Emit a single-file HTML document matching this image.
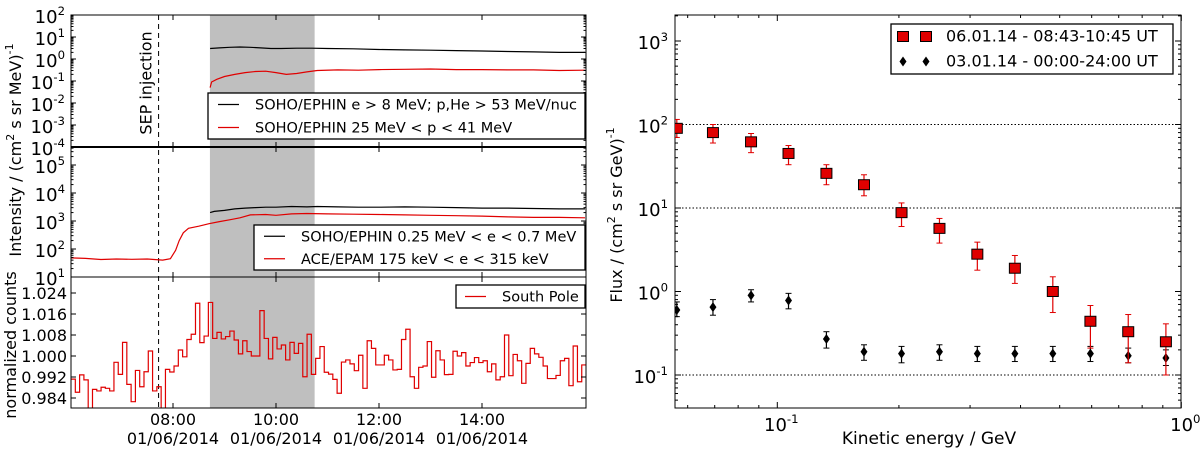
<!DOCTYPE html>
<html><head><meta charset="utf-8"><style>
html,body{margin:0;padding:0;background:#fff;}
svg{display:block;font-family:"DejaVu Sans","Liberation Sans",sans-serif;}
</style></head><body>
<svg id="c" width="1200" height="450" viewBox="0 0 1200 450" xmlns="http://www.w3.org/2000/svg"></svg>
<script>
// ---- left panel data (time in hours, 01/06/2014) ----
const topBlackT = [8.72,8.9,9.1,9.3,9.5,9.7,9.9,10.1,10.4,10.7,11.0,11.5,12.0,12.5,13.0,13.5,14.0,14.5,15.0,15.5,16.0];
const topBlackV = [3.0,3.2,3.4,3.5,3.4,3.2,3.0,3.0,3.1,3.1,3.0,2.9,2.7,2.6,2.5,2.4,2.3,2.2,2.1,2.0,2.0];
const topRedT = [8.72,8.75,8.85,9.0,9.2,9.4,9.6,9.8,10.0,10.2,10.4,10.6,10.8,11.2,11.6,12.0,12.5,13.0,13.5,14.0,14.5,15.0,15.5,16.0];
const topRedV = [0.05,0.09,0.12,0.16,0.2,0.24,0.27,0.28,0.24,0.2,0.22,0.26,0.3,0.32,0.31,0.33,0.34,0.35,0.33,0.33,0.32,0.32,0.3,0.31];
const midBlackT = [8.72,8.8,9.0,9.2,9.4,9.6,9.8,10.0,10.3,10.6,10.8,11.2,11.6,12.0,12.5,13.0,13.5,14.0,14.5,15.0,15.5,16.0];
const midBlackV = [2000,2200,2400,2700,2900,3000,3100,3100,3300,3200,3300,3200,3100,3100,3200,3100,3000,2900,2900,2800,2700,2700];
const midRedT = [6.02,6.3,6.6,6.9,7.2,7.5,7.8,7.95,8.05,8.12,8.2,8.3,8.5,8.7,8.9,9.1,9.3,9.5,9.8,10.0,10.3,10.6,11.0,11.5,12.0,12.5,13.0,13.5,14.0,14.5,15.0,15.5,16.0];
const midRedV = [48,46,42,44,43,44,40,45,90,200,380,550,650,800,950,1100,1300,1650,1700,1600,1800,1850,1800,1750,1700,1650,1600,1550,1500,1400,1350,1350,1300];
const southPoleStart = 6.02;
const southPoleBinHours = 1/12;
const southPoleV = [0.9912,0.9862,0.9928,0.9909,0.979,0.9873,0.9867,0.9881,0.9877,0.9867,0.9976,0.9930,1.0052,0.9892,0.9826,0.9945,0.9883,0.9940,1.0019,0.9867,0.9883,0.979,0.9949,0.9939,0.9962,1.0023,0.9997,1.0063,1.0083,1.0201,1.0051,1.0076,1.0204,1.0067,1.0090,1.0065,1.0074,1.0095,1.0061,1.0008,1.0058,1.0017,1.0000,1.0000,1.0173,1.0067,0.9989,1.0071,1.0027,1.0042,
0.9985,1.0052,1.0010,1.0048,0.9921,1.0083,0.9930,0.9991,1.0036,0.9938,0.9931,0.9911,0.9858,0.9977,0.9985,0.9970,0.9944,1.0003,0.9877,1.0058,1.0029,0.9966,0.9966,1.0003,0.9985,0.9947,0.9949,1.0063,1.0102,0.9921,0.9877,0.9957,0.9962,1.0055,0.9919,1.0020,0.9985,0.9929,0.9930,1.0018,1.0000,1.0013,0.9962,0.9975,0.9994,0.9975,0.9982,0.9940,0.9970,0.9909,0.9921,1.0080,0.9925,
1.0006,0.9982,0.9896,0.9972,1.0029,1.0008,0.9995,0.9962,0.9914,0.9914,0.9926,0.9982,0.9991,0.9887,1.0038,0.9902,0.9966];
const sepInjection = 7.72;
const bandStart = 8.717, bandEnd = 10.75;
const timeTicks = [8,10,12,14];
const timeTickLabels = ["08:00","10:00","12:00","14:00"];
const bottomTicks = [0.984,0.992,1.000,1.008,1.016,1.024];
// ---- right panel data ----
const energy = [0.0564,0.0693,0.0861,0.1066,0.1323,0.1639,0.2030,0.2520,0.3127,0.3873,0.4808,0.5957,0.7390,0.9160];
const redFlux = [90,80,62,45,26,19,8.8,5.7,2.8,1.9,1.0,0.44,0.33,0.25];
const redUp = [115,100,78,56,33,25,11.5,7.5,3.9,2.7,1.5,0.68,0.53,0.41];
const redLo = [70,60,46,33,19,14,6.0,3.8,1.8,1.25,0.56,0.21,0.14,0.1];
const blackFlux = [0.6,0.65,0.9,0.78,0.27,0.19,0.18,0.19,0.18,0.18,0.18,0.18,0.17,0.16];
const blackUp = [0.75,0.8,1.05,0.95,0.33,0.23,0.22,0.23,0.22,0.22,0.22,0.22,0.21,0.2];
const blackLo = [0.5,0.52,0.75,0.62,0.21,0.15,0.14,0.15,0.145,0.145,0.145,0.145,0.14,0.13];

const NS = "http://www.w3.org/2000/svg";
const svg = document.getElementById('c');
function el(tag, attrs, parent, text){
  const e = document.createElementNS(NS, tag);
  for (const k in attrs) e.setAttribute(k, attrs[k]);
  if (text !== undefined) e.textContent = text;
  (parent || svg).appendChild(e);
  return e;
}
function pow10Label(parent, x, y, exp, anchor, size){
  const t = el('text', {x:x, y:y, 'text-anchor':anchor, 'font-size':size}, parent);
  const a = document.createElementNS(NS,'tspan'); a.textContent = '10'; t.appendChild(a);
  const b = document.createElementNS(NS,'tspan'); b.setAttribute('dy', -size*0.45); b.setAttribute('font-size', size*0.65); b.textContent = exp; t.appendChild(b);
  return t;
}
// scales
const X0=71, X1=586;
const tx = h => 173 + (h-8)*51.5;
const yTop = v => 147 - (Math.log10(v)+4)*22;
const yMid = v => 277 - (Math.log10(v)-1)*28;
const yBot = v => 356 - (v-1)*2625;
const RX0=675, RX1=1181, RY0=15, RY1=408;
const ex = E => 777.3 + (Math.log10(E)+1)*404;
const fy = F => 375 - (Math.log10(F)+1)*83.5;

const defs = el('defs',{});
const cp = el('clipPath',{id:'cb'},defs); el('rect',{x:X0,y:277,width:X1-X0,height:131},cp);
const cpr = el('clipPath',{id:'cr'},defs); el('rect',{x:RX0,y:RY0,width:RX1-RX0,height:RY1-RY0},cpr);

// ---------- LEFT ----------
const L = el('g',{});  
const band = el('rect',{x:tx(bandStart),y:15,width:tx(bandEnd)-tx(bandStart),height:393,fill:'#bfbfbf'},L);
 
const sep = el('line',{x1:tx(sepInjection),x2:tx(sepInjection),y1:15,y2:408,stroke:'#000','stroke-width':1,'stroke-dasharray':'5,4'},L);
 
const sepT = el('text',{x:0,y:0,'font-size':16,'text-anchor':'middle',transform:`translate(${tx(sepInjection)-7},83) rotate(-90)`},L,'SEP injection');
 

function line(ts, vs, sc, color, name){
  const p = ts.map((t,i)=>`${tx(t).toFixed(1)},${sc(vs[i]).toFixed(1)}`).join(' ');
  const pl = el('polyline',{points:p,fill:'none',stroke:color,'stroke-width':1.2},L);
   
}
line(topBlackT, topBlackV, yTop, '#000', 'series-ephin-e8mev');
line(topRedT, topRedV, yTop, '#e00000', 'series-ephin-25-41mev');
line(midBlackT, midBlackV, yMid, '#000', 'series-ephin-electrons');
line(midRedT, midRedV, yMid, '#e00000', 'series-epam-electrons');

{
  const w = southPoleBinHours;
  let d = '';
  southPoleV.forEach((v,i)=>{
    const xa = tx(southPoleStart+i*w), xb = tx(southPoleStart+(i+1)*w), y = yBot(v);
    d += (i===0?`M${xa},${y}`:`L${xa},${y}`) + `L${xb},${y}`;
  });
  const p = el('path',{d:d,fill:'none',stroke:'#e00000','stroke-width':1.2,'clip-path':'url(#cb)'},L);
   
}
[[15,147],[147,277],[277,408]].forEach((r,i)=>{
  const f = el('rect',{x:X0,y:r[0],width:X1-X0,height:r[1]-r[0],fill:'none',stroke:'#000','stroke-width':1},L);
   
});
el('line',{x1:X0,x2:X1,y1:147,y2:147,stroke:'#000','stroke-width':2},L);
timeTicks.forEach((h,i)=>{
  [[15,147],[147,277],[277,408]].forEach(r=>{
    el('line',{x1:tx(h),x2:tx(h),y1:r[0],y2:r[0]+5,stroke:'#000'},L);
    el('line',{x1:tx(h),x2:tx(h),y1:r[1],y2:r[1]-5,stroke:'#000'},L);
  });
  const t1 = el('text',{x:tx(h),y:425,'font-size':16,'text-anchor':'middle'},L,timeTickLabels[i]);
   
  const t2 = el('text',{x:tx(h),y:444,'font-size':16,'text-anchor':'middle'},L,'01/06/2014');
   
});
for (let e=-4;e<=2;e++){
  const y=yTop(Math.pow(10,e));
  el('line',{x1:X0,x2:X0+5,y1:y,y2:y,stroke:'#000'},L); el('line',{x1:X1,x2:X1-5,y1:y,y2:y,stroke:'#000'},L);
  for(let m=2;m<10;m++){const ym=yTop(m*Math.pow(10,e)); if(e<2){el('line',{x1:X0,x2:X0+2.5,y1:ym,y2:ym,stroke:'#000'},L);el('line',{x1:X1,x2:X1-2.5,y1:ym,y2:ym,stroke:'#000'},L);}}
  const lb = pow10Label(L, 65, y+8, String(e), 'end', 18);
   
}
for (let e=1;e<=5;e++){
  const y=yMid(Math.pow(10,e));
  el('line',{x1:X0,x2:X0+5,y1:y,y2:y,stroke:'#000'},L); el('line',{x1:X1,x2:X1-5,y1:y,y2:y,stroke:'#000'},L);
  for(let m=2;m<10;m++){const ym=yMid(m*Math.pow(10,e)); if(ym>147){el('line',{x1:X0,x2:X0+2.5,y1:ym,y2:ym,stroke:'#000'},L);el('line',{x1:X1,x2:X1-2.5,y1:ym,y2:ym,stroke:'#000'},L);}}
  if(e>=2){const lb = pow10Label(L, 65, y+8, String(e), 'end', 18);
   }
}
{ const lb = pow10Label(L, 65, 285, '1', 'end', 18);   }
bottomTicks.forEach(v=>{
  const y=yBot(v);
  el('line',{x1:X0,x2:X0+5,y1:y,y2:y,stroke:'#000'},L); el('line',{x1:X1,x2:X1-5,y1:y,y2:y,stroke:'#000'},L);
  const lb = el('text',{x:67,y:y+6,'font-size':16,'text-anchor':'end'},L,v.toFixed(3));
   
});
{
  const t = el('text',{x:0,y:0,'font-size':16,'text-anchor':'middle',transform:'translate(21,150) rotate(-90)'},L);
   
  t.innerHTML = 'Intensity / (cm<tspan dy="-7" font-size="11">2</tspan><tspan dy="7">  s sr MeV)</tspan><tspan dy="-8" font-size="11">-1</tspan>';
  const t2 = el('text',{x:0,y:0,'font-size':16,'text-anchor':'middle',transform:'translate(16,345) rotate(-90)'},L,'normalized counts');
   
}
function legend(parent,x,y,w,h,items,name,fs,lx,lw,tx0){
  const g = el('g',{},parent);  
  el('rect',{x:x,y:y,width:w,height:h,fill:'#fff',stroke:'#000','stroke-width':1.3},g);
  items.forEach((it,i)=>{
    const yy = y + h/(items.length*2)*(2*i+1);
    if(it.marker) it.marker(g, yy); else el('line',{x1:x+lx,x2:x+lx+lw,y1:yy,y2:yy,stroke:it.c,'stroke-width':1.2},g);
    const t=el('text',{x:x+tx0,y:yy+5,'font-size':fs},g,it.t);
     
  });
}
legend(L,208,93,377,46,[{c:'#000',t:'SOHO/EPHIN e > 8 MeV; p,He > 53 MeV/nuc'},{c:'#e00000',t:'SOHO/EPHIN 25 MeV < p < 41 MeV'}],'legend-top',14.5,10,21,47);
legend(L,254,225,331,45,[{c:'#000',t:'SOHO/EPHIN 0.25 MeV < e < 0.7 MeV'},{c:'#e00000',t:'ACE/EPAM 175 keV < e < 315 keV'}],'legend-middle',14.5,10,21,47);
legend(L,456,285,129,23,[{c:'#e00000',t:'South Pole'}],'legend-bottom',14.5,9,21,46);

// ---------- RIGHT ----------
const R = el('g',{});  
[100,10,0.1].forEach(v=>{
  const g=el('line',{x1:RX0,x2:RX1,y1:fy(v),y2:fy(v),stroke:'#000','stroke-dasharray':'1.5,2','stroke-width':1},R);
   
});
{const fr=el('rect',{x:RX0,y:RY0,width:RX1-RX0,height:RY1-RY0,fill:'none',stroke:'#000','stroke-width':1},R);  }
for(let e=-2;e<=0;e++){
  for(let m=1;m<10;m++){
    const v=m*Math.pow(10,e); const x=ex(v); if(x<RX0-0.5||x>RX1+0.5) continue;
    const L2 = m===1?6:3;
    el('line',{x1:x,x2:x,y1:RY1,y2:RY1-L2,stroke:'#000'},R); el('line',{x1:x,x2:x,y1:RY0,y2:RY0+L2,stroke:'#000'},R);
    if(m===1){const lb=pow10Label(R,x+4,431,String(e),'middle',18);  }
  }
}
for(let e=-2;e<=3;e++){
  for(let m=1;m<10;m++){
    const v=m*Math.pow(10,e); const y=fy(v); if(y<RY0||y>RY1) continue;
    const L2 = m===1?6:3;
    el('line',{x1:RX0,x2:RX0+L2,y1:y,y2:y,stroke:'#000'},R); el('line',{x1:RX1,x2:RX1-L2,y1:y,y2:y,stroke:'#000'},R);
    if(m===1){const lb=pow10Label(R,668,y+8,String(e),'end',18);  }
  }
}
{
  const t = el('text',{x:0,y:0,'font-size':16,'text-anchor':'middle',transform:'translate(622,215) rotate(-90)'},R);
   
  t.innerHTML = 'Flux / (cm<tspan dy="-7" font-size="11">2</tspan><tspan dy="7">  s sr GeV)</tspan><tspan dy="-8" font-size="11">-1</tspan>';
  const t2 = el('text',{x:929,y:444,'font-size':17,'text-anchor':'middle'},R,'Kinetic energy / GeV');
   
}
const pts = el('g',{'clip-path':'url(#cr)'},R);  
function diamond(g,x,y){ return el('path',{d:`M${x},${y-5}L${x+3.5},${y}L${x},${y+5}L${x-3.5},${y}Z`,fill:'#000'},g); }
function square(g,x,y){ return el('rect',{x:x-5.5,y:y-5,width:11,height:10,fill:'#e00000',stroke:'#000','stroke-width':1},g); }
energy.forEach((E,i)=>{
  const x=ex(E);
  const eb=el('line',{x1:x,x2:x,y1:fy(blackUp[i]),y2:fy(blackLo[i]),stroke:'#000','stroke-width':1.2},pts);
   
  el('line',{x1:x-3,x2:x+3,y1:fy(blackUp[i]),y2:fy(blackUp[i]),stroke:'#000'},pts);
  el('line',{x1:x-3,x2:x+3,y1:fy(blackLo[i]),y2:fy(blackLo[i]),stroke:'#000'},pts);
  const d=diamond(pts,x,fy(blackFlux[i]));  
});
energy.forEach((E,i)=>{
  const x=ex(E);
  const eb=el('line',{x1:x,x2:x,y1:fy(redUp[i]),y2:fy(redLo[i]),stroke:'#e00000','stroke-width':1.2},pts);
   
  el('line',{x1:x-3,x2:x+3,y1:fy(redUp[i]),y2:fy(redUp[i]),stroke:'#e00000'},pts);
  el('line',{x1:x-3,x2:x+3,y1:fy(redLo[i]),y2:fy(redLo[i]),stroke:'#e00000'},pts);
  const s=square(pts,x,fy(redFlux[i]));  
});
legend(R,891,24,282,50,[
  {t:'06.01.14 - 08:43-10:45 UT',marker:(g,y)=>{square(g,903,y);square(g,926,y);}},
  {t:'03.01.14 - 00:00-24:00 UT',marker:(g,y)=>{diamond(g,903,y);diamond(g,926,y);}}
],'legend-right',16,0,0,55);
</script>
</body></html>
